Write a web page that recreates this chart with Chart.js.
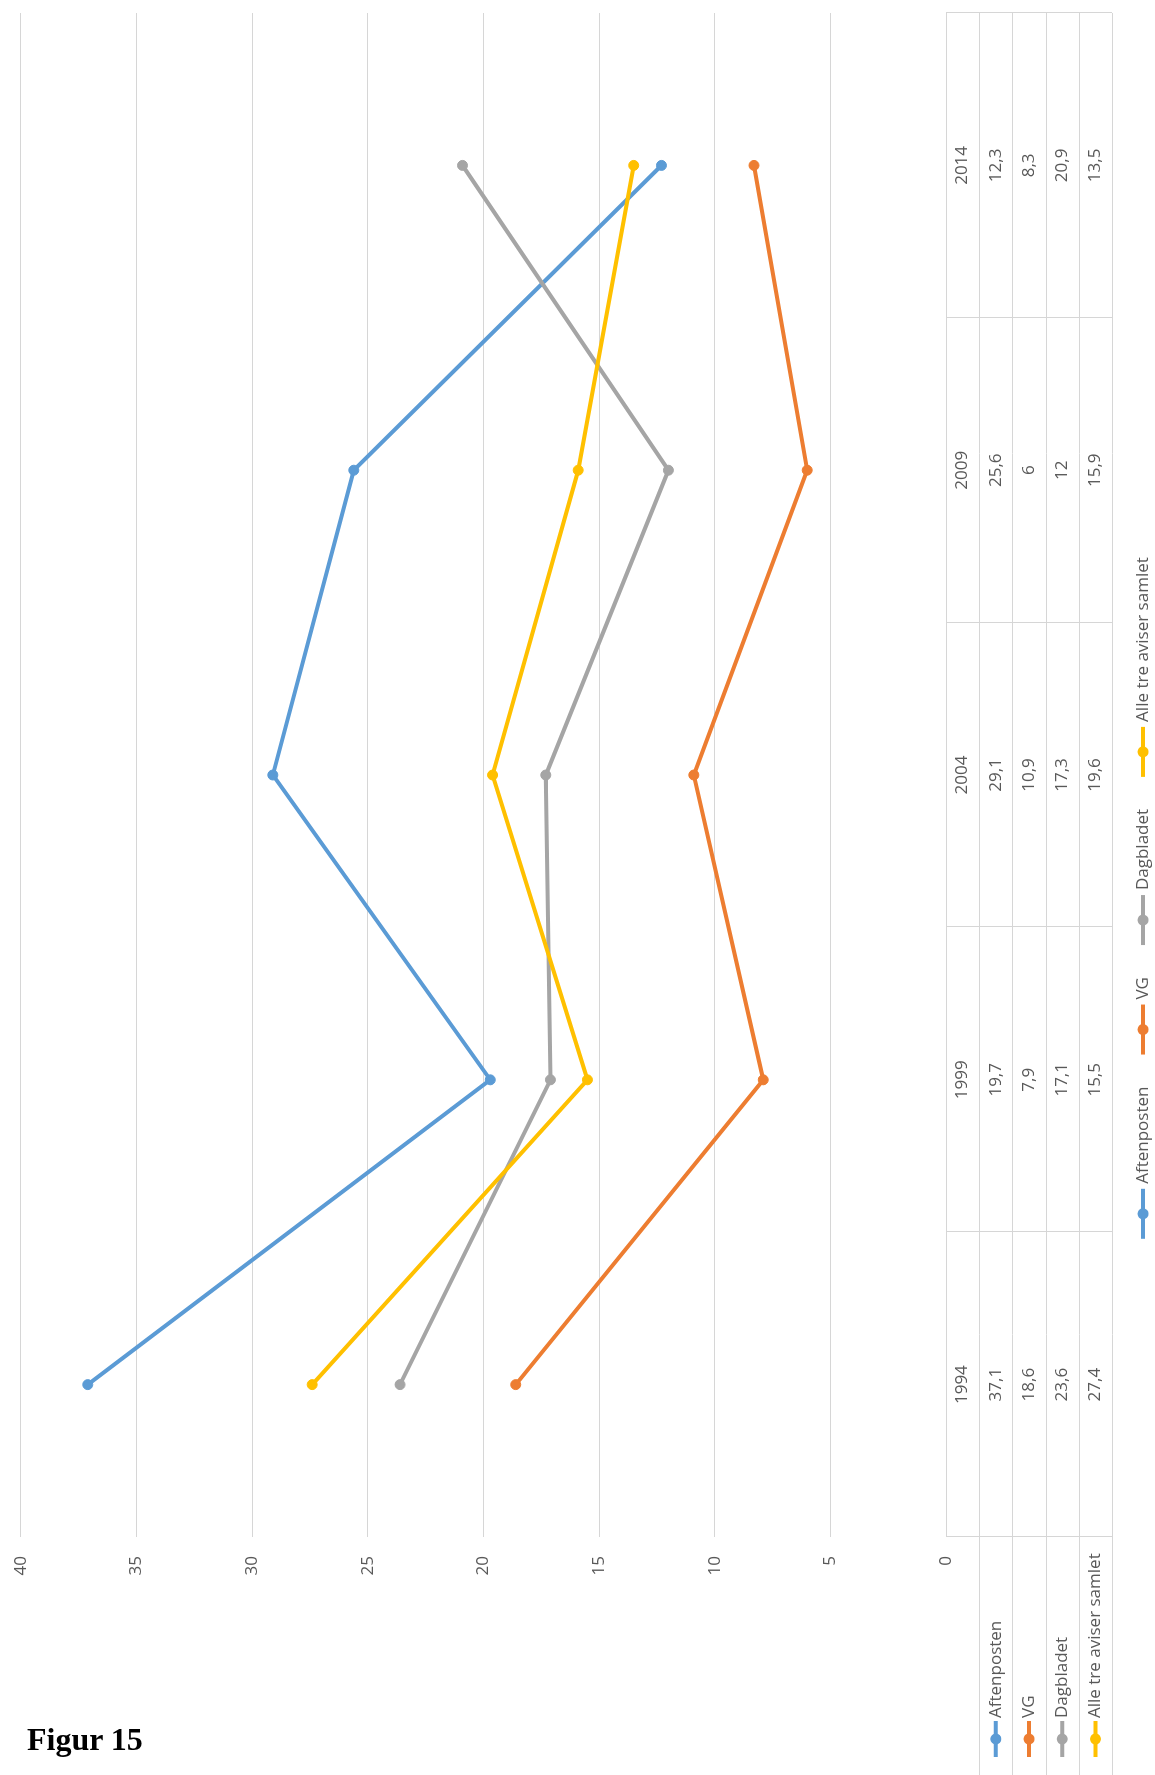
<!DOCTYPE html>
<html>
<head>
<meta charset="utf-8">
<script src="https://cdn.jsdelivr.net/npm/chart.js@4.4.1/dist/chart.umd.min.js"></script>
<style>
  html, body { margin: 0; padding: 0; background: #fff; overflow: hidden; width: 1155px; height: 1775px; }
  /* the whole Excel chart is turned a quarter turn: draw it flat, then rotate */
  #wrap { position: absolute; left: 0; top: 0; width: 1775px; height: 1155px;
          transform-origin: 0 0; transform: translateY(1775px) rotate(-90deg); }
  #fig { position: absolute; left: 27px; top: 1721px; font: bold 32px "Liberation Serif", "Times New Roman", serif; color: #000; }
</style>
</head>
<body>
<div id="wrap"><canvas id="c" width="1775" height="1155"></canvas></div>
<div id="fig">Figur 15</div>
<script>
const years = ['1994', '1999', '2004', '2009', '2014'];
const seriesNames = ['Aftenposten', 'VG', 'Dagbladet', 'Alle tre aviser samlet'];
const aftenposten = [37.1, 19.7, 29.1, 25.6, 12.3];
const vg = [18.6, 7.9, 10.9, 6, 8.3];
const dagbladet = [23.6, 17.1, 17.3, 12, 20.9];
const alleTre = [27.4, 15.5, 19.6, 15.9, 13.5];
const yMin = 0, yMax = 40, yStep = 5;

const colors = ['#5b9bd5', '#ed7d31', '#a5a5a5', '#ffc000'];
const textCol = '#595959';
const lineCol = '#d6d6d6';
const FONT = '"Open Sans", "Liberation Sans", sans-serif';
const FS = 17;

const fmt = v => String(v).replace('.', ',');

// little Excel-style key: line with a dot in the middle
function drawKey(ctx, x, y, len, color) {
  ctx.strokeStyle = color;
  ctx.lineWidth = 4;
  ctx.beginPath(); ctx.moveTo(x, y); ctx.lineTo(x + len, y); ctx.stroke();
  ctx.fillStyle = color;
  ctx.beginPath(); ctx.arc(x + len / 2, y, 5.5, 0, Math.PI * 2); ctx.fill();
}

const tablePlugin = {
  id: 'dataTable',
  afterDraw(chart) {
    const { ctx, chartArea } = chart;
    const x = chart.scales.x;
    const sets = chart.data.datasets;
    const n = chart.data.labels.length;
    const band = (chartArea.right - chartArea.left) / n;
    const rowH = 33.2;
    const top = chartArea.bottom;
    const rows = sets.length + 1;
    const bottom = top + rowH * rows;

    ctx.save();
    // grid of the table
    ctx.strokeStyle = lineCol;
    ctx.lineWidth = 1;
    ctx.beginPath();
    for (let r = 0; r <= rows; r++) {
      const yy = Math.round(top + r * rowH) + 0.5;
      ctx.moveTo(r === 0 ? chartArea.left : 0, yy);
      ctx.lineTo(chartArea.right, yy);
    }
    for (let i = 0; i <= n; i++) {
      const xx = Math.round(x.getPixelForValue(i) - band / 2) + 0.5;
      ctx.moveTo(xx, top); ctx.lineTo(xx, bottom);
    }
    ctx.stroke();

    // cell texts
    ctx.font = FS + 'px ' + FONT;
    ctx.fillStyle = textCol;
    ctx.textAlign = 'center';
    ctx.textBaseline = 'middle';
    chart.data.labels.forEach((lab, i) => {
      const cx = x.getPixelForValue(i);
      ctx.fillText(lab, cx, top + rowH / 2);
      sets.forEach((ds, s) => {
        ctx.fillText(fmt(ds.data[i]), cx, top + rowH * (s + 1.5));
      });
    });

    // series names with keys, left of the table
    sets.forEach((ds, s) => {
      const cy = top + rowH * (s + 1.5);
      drawKey(ctx, 18, cy, 36, ds.borderColor);
      ctx.fillStyle = textCol;
      ctx.textAlign = 'left';
      ctx.fillText(ds.label, 57, cy);
    });

    // legend under the table
    const keyLen = 50, gapKey = 5, gapItem = 32;
    const widths = sets.map(ds => keyLen + gapKey + ctx.measureText(ds.label).width);
    const total = widths.reduce((a, b) => a + b, 0) + gapItem * (sets.length - 1);
    let lx = 877 - total / 2;
    const ly = 1143;
    sets.forEach((ds, s) => {
      drawKey(ctx, lx, ly, keyLen, ds.borderColor);
      ctx.fillStyle = textCol;
      ctx.textAlign = 'left';
      ctx.fillText(ds.label, lx + keyLen + gapKey, ly);
      lx += widths[s] + gapItem;
    });
    ctx.restore();
  }
};

const seriesData = [aftenposten, vg, dagbladet, alleTre];

new Chart(document.getElementById('c'), {
  type: 'line',
  data: {
    labels: years,
    datasets: seriesNames.map((name, i) => ({
      label: name,
      data: seriesData[i],
      borderColor: colors[i],
      backgroundColor: colors[i],
      pointBackgroundColor: colors[i],
      pointBorderColor: colors[i],
      borderWidth: 4,
      pointRadius: 5,
      pointBorderWidth: 1,
      tension: 0,
      order: seriesNames.length - i
    }))
  },
  options: {
    responsive: false,
    animation: false,
    devicePixelRatio: 1,
    layout: { padding: { top: 20.7, right: 13, bottom: 209, left: 0 } },
    plugins: { legend: { display: false }, tooltip: { enabled: false } },
    scales: {
      x: { display: false, offset: true },
      y: {
        min: yMin, max: yMax,
        ticks: { stepSize: yStep, color: textCol, padding: 19, font: { family: FONT, size: FS } },
        grid: { color: lineCol, drawTicks: false },
        border: { display: false },
        afterFit: s => { s.width = 238; s.paddingTop = 0; s.paddingBottom = 0; }
      }
    }
  },
  plugins: [tablePlugin]
});
</script>
</body>
</html>
